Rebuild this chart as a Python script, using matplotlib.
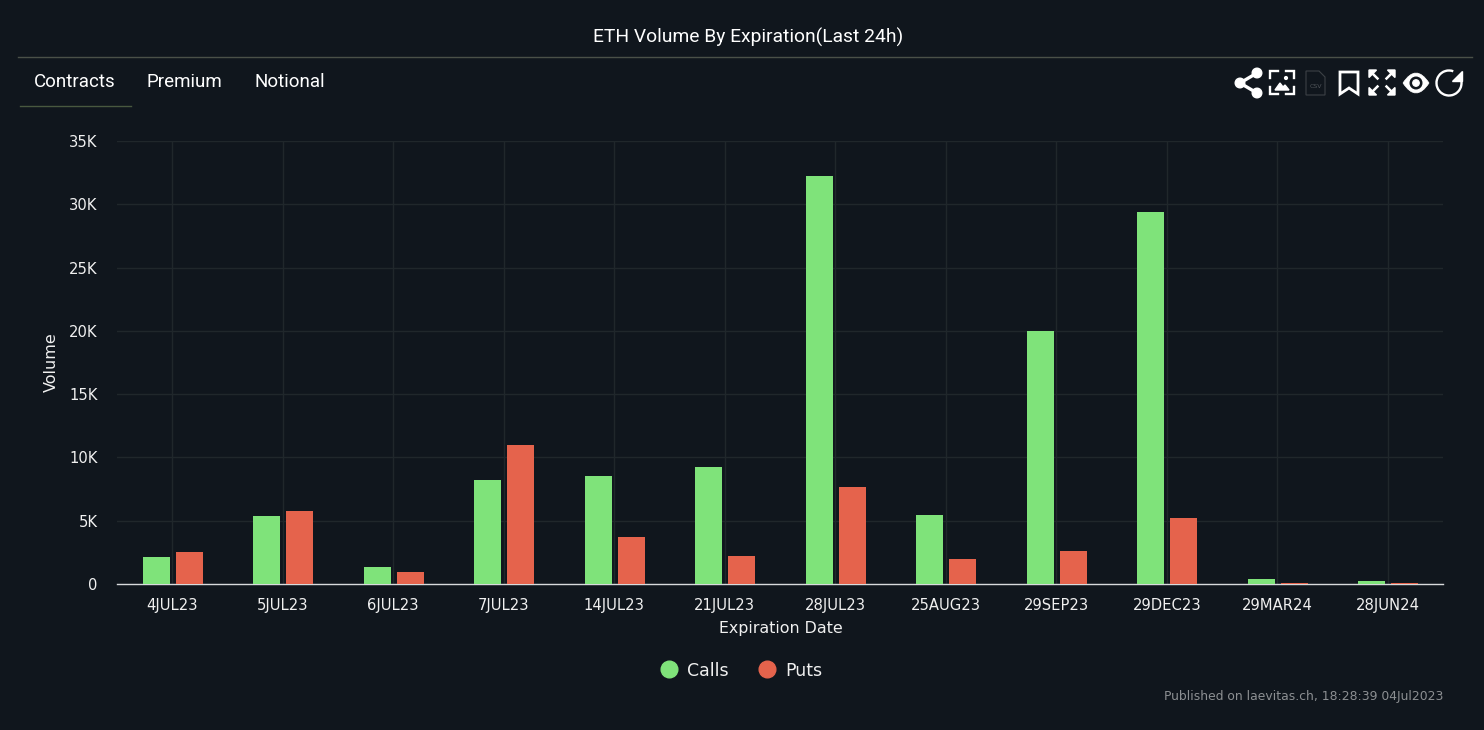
import matplotlib
matplotlib.use('Agg')
import matplotlib.pyplot as plt
import matplotlib.patches as mpatches
from matplotlib.lines import Line2D
from matplotlib.path import Path
import numpy as np

expirations = ['4JUL23', '5JUL23', '6JUL23', '7JUL23', '14JUL23', '21JUL23', '28JUL23',
               '25AUG23', '29SEP23', '29DEC23', '29MAR24', '28JUN24']
calls = [2100, 5350, 1350, 8200, 8500, 9250, 32200, 5450, 20000, 29400, 400, 200]
puts = [2500, 5800, 950, 10950, 3700, 2200, 7700, 2000, 2600, 5250, 80, 80]
y_ticks = [0, 5000, 10000, 15000, 20000, 25000, 30000, 35000]
y_labels = ['0', '5K', '10K', '15K', '20K', '25K', '30K', '35K']
tabs = ['Contracts', 'Premium', 'Notional']

BG = '#10161d'
GREEN = '#7fe37a'
RED = '#e5634c'
W, H = 1484, 730

fig = plt.figure(figsize=(W / 100, H / 100), dpi=100, facecolor=BG)
ax = fig.add_axes([117 / W, 1 - 584 / H, (1443 - 117) / W, (584 - 141) / H], facecolor=BG)

x = np.arange(len(expirations))
ax.bar(x - 0.145, calls, width=0.243, color=GREEN, zorder=3)
ax.bar(x + 0.155, puts, width=0.243, color=RED, zorder=3)

ax.set_xlim(-0.5, len(expirations) - 0.5)
ax.set_ylim(0, 35000)
ax.set_xticks(x)
ax.set_xticklabels(expirations, family='DejaVu Sans', fontsize=10.6, color='#f0f0f0')
ax.set_yticks(y_ticks)
ax.set_yticklabels(y_labels, family='DejaVu Sans', fontsize=10.6, color='#f0f0f0')
ax.tick_params(length=0, pad=10)
ax.tick_params(axis='y', pad=14)
ax.grid(True, color='#20272b', linewidth=1, zorder=0)
for side in ['top', 'right', 'left']:
    ax.spines[side].set_visible(False)
ax.spines['bottom'].set_color('#d8dadc')
ax.spines['bottom'].set_linewidth(1)
ax.spines['bottom'].set_zorder(2)

# overlay in pixel coordinates for header, tabs and icons
ov = fig.add_axes([0, 0, 1, 1], facecolor='none')
ov.set_xlim(0, W)
ov.set_ylim(H, 0)
ov.axis('off')

ov.text(748, 37, 'ETH Volume By Expiration(Last 24h)', color='white', fontsize=13.9,
        family='Roboto', ha='center', va='center')
ov.plot([18, 1472], [57, 57], color='#4a5048', lw=1)
for label, tx in zip(tabs, [34, 147, 254]):
    ov.text(tx, 82, label, color='white', fontsize=13.5, family='Roboto', va='center')
ov.plot([20, 131], [106, 106], color='#48583f', lw=1)

ov.text(51, 362, 'Volume', color='#f0f0f0', fontsize=11.5, family='DejaVu Sans',
        rotation=90, ha='center', va='center')
ov.text(781, 628, 'Expiration Date', color='#f0f0f0', fontsize=11.4, family='DejaVu Sans',
        ha='center', va='center')
ov.text(1443, 696.5, 'Published on laevitas.ch, 18:28:39 04Jul2023', color='#8c8f92', fontsize=8.95,
        family='DejaVu Sans', ha='right', va='center')

handles = [Line2D([], [], marker='o', linestyle='none', color=GREEN, markersize=12, label='Calls'),
           Line2D([], [], marker='o', linestyle='none', color=RED, markersize=12, label='Puts')]
leg = fig.legend(handles=handles, loc='center', bbox_to_anchor=(739 / W, 1 - 670.5 / H), ncol=2, frameon=False,
                 prop={'family': 'DejaVu Sans', 'size': 12.5}, labelcolor='#f0f0f0',
                 handlelength=1.6, handletextpad=0.25, columnspacing=1.4)

# toolbar icons
# share
pts = [(1240, 83), (1257, 73), (1257, 93)]
ov.plot([pts[1][0], pts[0][0], pts[2][0]], [pts[1][1], pts[0][1], pts[2][1]], color='white', lw=2.4)
for p in pts:
    ov.add_patch(mpatches.Circle(p, 4.8, color='white'))
# image export
for xs, ys in [([1270, 1270, 1278], [78, 71, 71]), ([1286, 1294, 1294], [71, 71, 78]),
               ([1270, 1270, 1278], [87, 94, 94]), ([1286, 1294, 1294], [94, 94, 87])]:
    ov.plot(xs, ys, color='white', lw=1.7, solid_joinstyle='miter')
ov.add_patch(mpatches.Polygon([(1275, 90), (1280, 83), (1283, 87), (1285, 85), (1289, 90)], color='white'))
ov.add_patch(mpatches.Circle((1286, 78), 1.4, color='white'))
# csv file
ov.add_patch(mpatches.Polygon([(1306, 71), (1319, 71), (1325, 77), (1325, 95), (1306, 95)], closed=True,
                              fill=False, edgecolor='#3c4146', lw=0.8))
ov.text(1315.5, 86, 'CSV', color='#50555a', fontsize=4.5, family='DejaVu Sans', ha='center', va='center')
# bookmark
ov.add_patch(mpatches.Polygon([(1340, 72), (1358, 72), (1358, 94), (1349, 88), (1340, 94)], closed=True,
                              fill=False, edgecolor='white', lw=2, joinstyle='miter'))
# fullscreen arrows
for cx, cy, dx, dy in [(1369, 70, 1, 1), (1395, 70, -1, 1), (1369, 95, 1, -1), (1395, 95, -1, -1)]:
    ov.add_patch(mpatches.Polygon([(cx, cy), (cx + 7.5 * dx, cy), (cx, cy + 7.5 * dy)], color='white'))
    ov.plot([cx + 2 * dx, cx + 8.5 * dx], [cy + 2 * dy, cy + 8.5 * dy], color='white', lw=1.8)
# eye
eye = Path([(1403, 83), (1416, 63), (1429, 83), (1416, 103), (1403, 83)],
           [Path.MOVETO, Path.CURVE3, Path.CURVE3, Path.CURVE3, Path.CURVE3])
ov.add_patch(mpatches.PathPatch(eye, facecolor='white', edgecolor='white', lw=0.5))
ov.add_patch(mpatches.Circle((1416, 83), 5.8, color=BG))
ov.add_patch(mpatches.Circle((1416, 83), 3.2, color='white'))
# refresh
ov.add_patch(mpatches.Arc((1449, 83), 25, 25, theta1=-10, theta2=290, color='white', lw=1.7))
ov.add_patch(mpatches.Polygon([(1462, 71), (1462, 81), (1452, 81)], color='white'))

fig.savefig('out.png', dpi=100, facecolor=BG)
